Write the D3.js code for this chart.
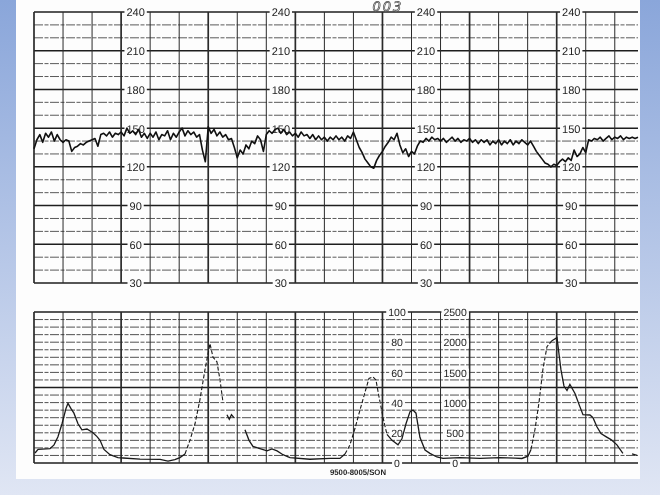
<!DOCTYPE html>
<html><head><meta charset="utf-8">
<script src="https://cdn.jsdelivr.net/npm/d3@7"></script>
<style>html,body{margin:0;padding:0;background:#fff}svg{display:block}
text{-webkit-font-smoothing:antialiased;text-rendering:geometricPrecision}
.lbl{opacity:0.99;will-change:transform}</style>
</head><body>
<svg id="c" width="660" height="495"></svg>
<script>
// ---------------- DATA ----------------
// Fetal heart rate (bpm), sampled every 2 s from t = 0 s
const fhrStep = 2;
const fhrValues = [
  134,141,145,139,146, 143,147,140,145,141, 139,141,140,132,135, 136,138,137,139,140,
  141,142,136,145,146, 144,147,143,146,145, 147,144,150,146,148, 145,149,143,146,142,
  146,143,147,141,145, 144,148,141,146,143, 147,150,144,148,145, 147,143,145,133,124,
  151,146,149,144,147, 143,145,141,142,135, 127,133,130,137,134, 140,138,144,141,132,
  145,148,146,149,150, 146,149,145,147,144, 146,143,147,144,145, 142,145,141,144,141,
  143,140,143,141,144, 141,143,140,144,142, 147,141,135,131,126, 123,120,119,125,129,
  132,136,139,143,141, 146,137,131,134,128, 132,130,136,140,139, 142,140,143,141,142,
  140,142,139,141,143, 140,142,139,141,140, 142,139,141,138,141, 139,141,137,140,138,
  141,137,140,138,141, 137,140,138,141,139, 137,140,136,132,129, 126,123,122,120,122,
  121,124,126,124,127, 125,133,128,130,135, 131,141,140,142,141, 143,140,142,144,141,
  143,142,144,141,143, 142,143,142,143
];
// Uterine activity: time (s) and value (0-100 scale); null = gap in trace
const uaTimes = [0.7,2.8,11,13.8,16.5,19.3,22,23.4,25.5,27.5,30.3,33,36.5,40.6,43.4,45.5,48.2,52.3,57.8,61.3,
  73,86.8,92.3,97,100.5,104,107.4,110.9,114.3,117.8,121.2,123.3,126,128.1,130.2,131.5,
  132.9,134.5,136,137.7,141,
  145.3,148.1,150.8,155.6,160.5,163.9,167.4,171.5,176.3,190,203.9,210.7,214.2,217.6,221.1,224.5,228,230.7,233.5,235.5,
  237.6,240.4,243.1,246.6,250.7,253.4,256.2,259,261,263.1,265.8,269.3,272.7,277.5,281.7,293.4,307.2,321,331.3,336,
  340.2,342.3,345,347.8,350.5,353.3,356.7,360.2,361.6,362.9,365,367.1,369.1,372.6,375.3,378.1,382.9,385,387.7,390.5,
  393.9,397.4,401.5,405.6,408,
  411.9,415.3];
const uaValues = [6.6,9,9.5,12,17.4,26,36,39.5,36,33,26,22,22.5,20,17.5,15,9,5.5,3.5,3.3,
  2.6,2.4,1.3,2.2,3.6,6,15,26,42,62,79,70,67,55,40,null,
  32,29,32,30,null,
  22,15,11,9.5,8,9.3,8,5.5,3.5,2.5,3,3,6,12,23,35,47,56,57,55,
  44,30,19,15,12,16,26,34,35,33,17,8.6,6.4,4,3,3.5,3,3.5,3.2,3,
  4.5,9,22,40,62,77,81,83,72,62,51,48,52,46,39,32,31.8,30,24,19.5,
  17.5,15.5,12,6.4,null,
  6,5];
const fhrTicks = [240,210,180,150,120,90,60,30];
const uaTicks = [100,80,60,40,20,0];
const uaMmHgTicks = [2500,2000,1500,1000,500,0];

// ---------------- LAYOUT ----------------
const svg = d3.select("#c");
const defs = svg.append("defs");
const bg = defs.append("linearGradient").attr("id","bg").attr("x1",0).attr("y1",0).attr("x2",0).attr("y2",1);
bg.append("stop").attr("offset","0%").attr("stop-color","#8aa6da");
bg.append("stop").attr("offset","100%").attr("stop-color","#e0e6f4");
svg.append("rect").attr("width",660).attr("height",495).attr("fill","url(#bg)");
svg.append("rect").attr("x",16).attr("y",0).attr("width",624).attr("height",479).attr("fill","#fdfdfd");

const tMax = 416;
const x = d3.scaleLinear().domain([0,tMax]).range([34,638]);
const yF = d3.scaleLinear().domain([30,240]).range([283,12]);
const yU = d3.scaleLinear().domain([0,100]).range([463,312]);
const yM = d3.scaleLinear().domain([0,2500]).range([463,312]);

const gridCol = "#2a2a2a";
function vGrid(y0,y1){
  const g = svg.append("g");
  d3.range(0,tMax,20).forEach(t=>{
    g.append("line").attr("x1",x(t)).attr("x2",x(t)).attr("y1",y0).attr("y2",y1)
     .attr("stroke",gridCol).attr("stroke-width", t%60===0 ? 1.7 : 1.0);
  });
}
// top grid
svg.append("g").selectAll("line").data(d3.range(30,241,10)).join("line")
  .attr("x1",x(0)).attr("x2",x(tMax)).attr("y1",d=>yF(d)).attr("y2",d=>yF(d))
  .attr("stroke",d=>d%30===0?"#1e1e1e":"#5a5a5a")
  .attr("stroke-width",d=>d%30===0?1.5:1)
  .attr("stroke-dasharray",d=>d%30===0?null:"9,1.5,4,1.5");
vGrid(yF(240),yF(30));
// bottom grid
svg.append("g").selectAll("line").data(d3.range(0,101,5)).join("line")
  .attr("x1",x(0)).attr("x2",x(tMax)).attr("y1",d=>yU(d)).attr("y2",d=>yU(d))
  .attr("stroke",d=>(d%50===0)?"#1e1e1e":"#505050")
  .attr("stroke-width",d=>(d%50===0)?1.5:1)
  .attr("stroke-dasharray",d=>(d%50===0)?null:"9,1.5,4,1.5");
vGrid(yU(100),yU(0));

// axis label columns (cell centers, seconds)
function labelAxis(scale, ticks, tCenter, fs){
  const g = svg.append("g").attr("class","lbl").attr("transform",`translate(${x(tCenter)},0)`)
    .call(d3.axisRight(scale).tickValues(ticks).tickSize(0).tickPadding(0).tickFormat(d3.format("d")));
  g.select(".domain").remove();
  g.selectAll(".tick text").attr("x",0).attr("text-anchor","middle")
    .attr("font-family","Liberation Sans, Arial, sans-serif").attr("font-size",fs)
    .attr("fill","#1c1c1c").attr("dy","0.35em");
  g.selectAll(".tick").each(function(){
    const t = d3.select(this).select("text");
    const b = t.node().getBBox();
    d3.select(this).insert("rect","text").attr("x",b.x-2).attr("y",b.y+1)
      .attr("width",b.width+4).attr("height",b.height-2).attr("fill","#fdfdfd");
  });
}
[70,170,270,370].forEach(tc=>labelAxis(yF,fhrTicks,tc,11));
labelAxis(yU,uaTicks,250,10.5);
labelAxis(yM,uaMmHgTicks,290,10.5);

// FHR trace
const fhr = fhrValues.map((v,i)=>({t:i*fhrStep,v}));
svg.append("path").datum(fhr)
  .attr("d",d3.line().x(d=>x(d.t)).y(d=>yF(d.v)))
  .attr("fill","none").attr("stroke","#111").attr("stroke-width",1.6).attr("stroke-linejoin","round");

// UA trace: steep parts printed broken
const dashedSpans = [[104,131],[214,244],[342,357]];
const ua = uaTimes.map((t,i)=>({t,v:uaValues[i]}));
const runs = [];
for(let i=0;i<ua.length-1;i++){
  const a=ua[i], b=ua[i+1];
  if(a.v==null||b.v==null) continue;
  const m=(a.t+b.t)/2;
  const dashed = dashedSpans.some(s=>m>=s[0]&&m<=s[1]);
  const last = runs[runs.length-1];
  if(last && last.dashed===dashed && last.pts[last.pts.length-1]===a) last.pts.push(b);
  else runs.push({dashed,pts:[a,b]});
}
const uaLine = d3.line().x(d=>x(d.t)).y(d=>yU(d.v));
runs.forEach(r=>{
  svg.append("path").datum(r.pts).attr("d",uaLine).attr("fill","none")
    .attr("stroke","#1a1a1a").attr("stroke-width",r.dashed?1.1:1.3)
    .attr("stroke-dasharray",r.dashed?"4,2":null);
});

// text
const tg = svg.append("g").attr("class","lbl");
tg.append("text").attr("x",388).attr("y",11).attr("text-anchor","middle")
  .attr("font-family","DejaVu Sans, sans-serif").attr("font-style","italic").attr("font-size",13)
  .attr("fill","#fdfdfd").attr("stroke","#444").attr("stroke-width",0.7).attr("letter-spacing",2).text("003");
tg.append("text").attr("x",330).attr("y",475)
  .attr("font-family","Liberation Sans, Arial, sans-serif").attr("font-weight","bold").attr("font-size",8)
  .attr("textLength",56).attr("lengthAdjust","spacingAndGlyphs").attr("fill","#222").text("9500-8005/SON");
</script>
</body></html>
